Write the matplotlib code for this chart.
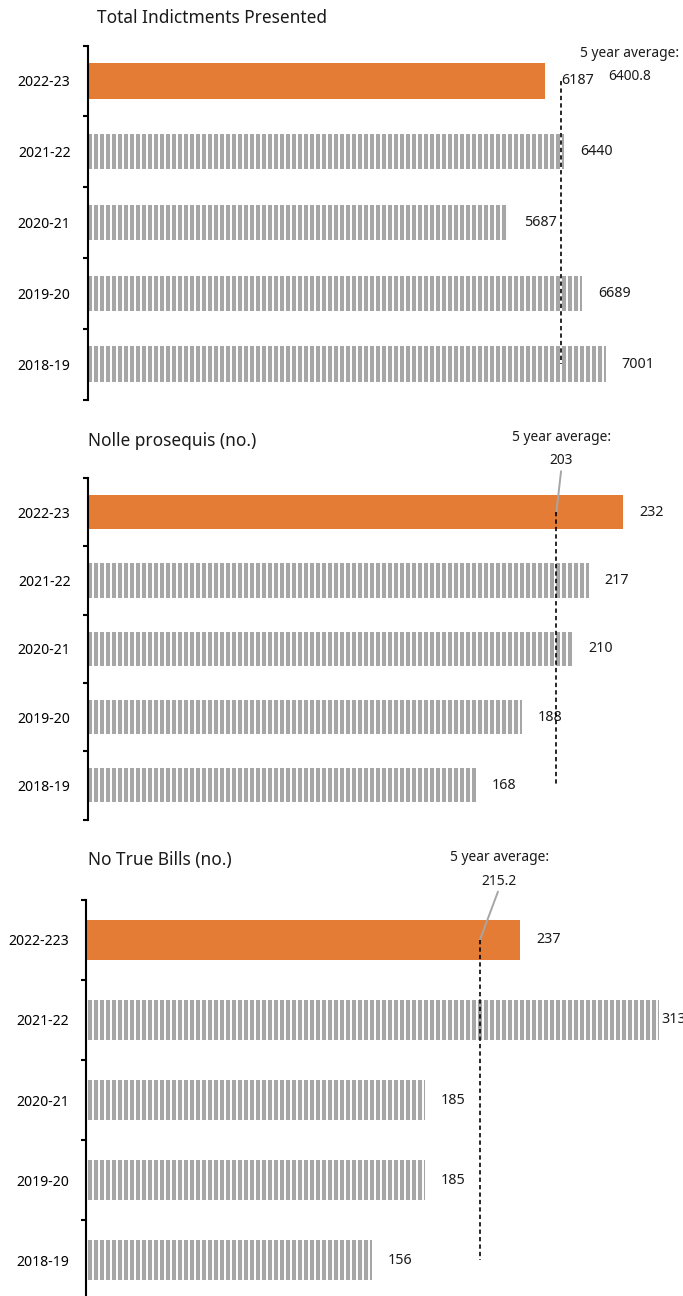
import numpy as np
import matplotlib.pyplot as plt

# five financial years, most recent first
years = ['2022-23', '2021-22', '2020-21', '2019-20', '2018-19']
years_ntb = ['2022-223', '2021-22', '2020-21', '2019-20', '2018-19']

indictments = [6187, 6440, 5687, 6689, 7001]
nolle_prosequis = [232, 217, 210, 188, 168]
no_true_bills = [237, 313, 185, 185, 156]

ORANGE = '#e47c35'
GREY = '#a6a6a6'
INK = '#1a1a1a'

W, H, DPI = 683, 1296, 108

plt.rcParams['font.family'] = ['Noto Sans', 'DejaVu Sans']
plt.rcParams['hatch.linewidth'] = 1.3
plt.rcParams['text.color'] = INK

fig = plt.figure(figsize=(W / DPI, H / DPI), dpi=DPI)


def px_axes(left, top, width, height):
    # place an axes using pixel coordinates measured from the top-left corner
    return fig.add_axes([left / W, 1 - (top + height) / H, width / W, height / H])


def panel(ax, labels, values, xmax, avg_offset, leader):
    n = len(values)
    y = np.arange(n)
    colors = [ORANGE] + [GREY] * (n - 1)
    bars = ax.barh(y, values, height=0.5, color=colors, edgecolor='white',
                   linewidth=0)
    for b in bars[1:]:
        b.set_hatch('|||')

    ax.set_xlim(0, xmax)
    ax.set_ylim(n - 0.5, -0.5)

    # value labels just right of each bar
    for v, yi in zip(values, y):
        off = 1.5 if v >= xmax else 10.7
        ax.annotate(str(v), (v, yi), xytext=(off, 0), textcoords='offset points',
                    ha='left', va='center', fontsize=9.5, annotation_clip=False)

    # five year average marker
    avg = float(np.mean(values))
    ax.plot([avg, avg], [0, n - 1], color='black', lw=1.1,
            ls=(0, (2.6, 1.9)), zorder=5)
    arrow = None
    if leader:
        arrow = dict(arrowstyle='-', color=GREY, lw=1.3, shrinkA=0, shrinkB=0,
                     relpos=(0.5, 0))
    ax.annotate(f'5 year average:\n{avg:g}', (avg, 0), xytext=avg_offset,
                textcoords='offset points', ha='center', va='center',
                multialignment='center', fontsize=9.2, linespacing=1.75,
                arrowprops=arrow, annotation_clip=False)

    for side in ('top', 'right', 'bottom'):
        ax.spines[side].set_visible(False)
    ax.spines['left'].set_linewidth(1.4)
    ax.spines['left'].set_color('black')
    ax.set_xticks([])
    ax.set_yticks(y)
    ax.set_yticklabels(labels, fontsize=9.4)
    ax.set_yticks(np.arange(n + 1) - 0.5, minor=True)
    ax.tick_params(axis='y', which='major', length=0, pad=11.3)
    ax.tick_params(axis='y', which='minor', length=3.5, width=1.4,
                   direction='out', color='black')


ax1 = px_axes(87.5, 45.5, 8000 * 0.07399, 354)
panel(ax1, years, indictments, 8000, (45.6, 10.7), False)

ax2 = px_axes(87.5, 478, 250 * 2.31, 341.5)
panel(ax2, years, nolle_prosequis, 250, (3.3, 42), True)

ax3 = px_axes(86, 899.5, 313 * 1.831, 401)
panel(ax3, years_ntb, no_true_bills, 313, (12.7, 46.7), True)

fig.text(97 / W, 1 - 18 / H, 'Total Indictments Presented', va='center',
         fontsize=11.5)
fig.text(88 / W, 1 - 441 / H, 'Nolle prosequis (no.)', va='center',
         fontsize=11.5)
fig.text(88 / W, 1 - 860 / H, 'No True Bills (no.)', va='center',
         fontsize=11.5)

fig.savefig('out.png', dpi=DPI)
